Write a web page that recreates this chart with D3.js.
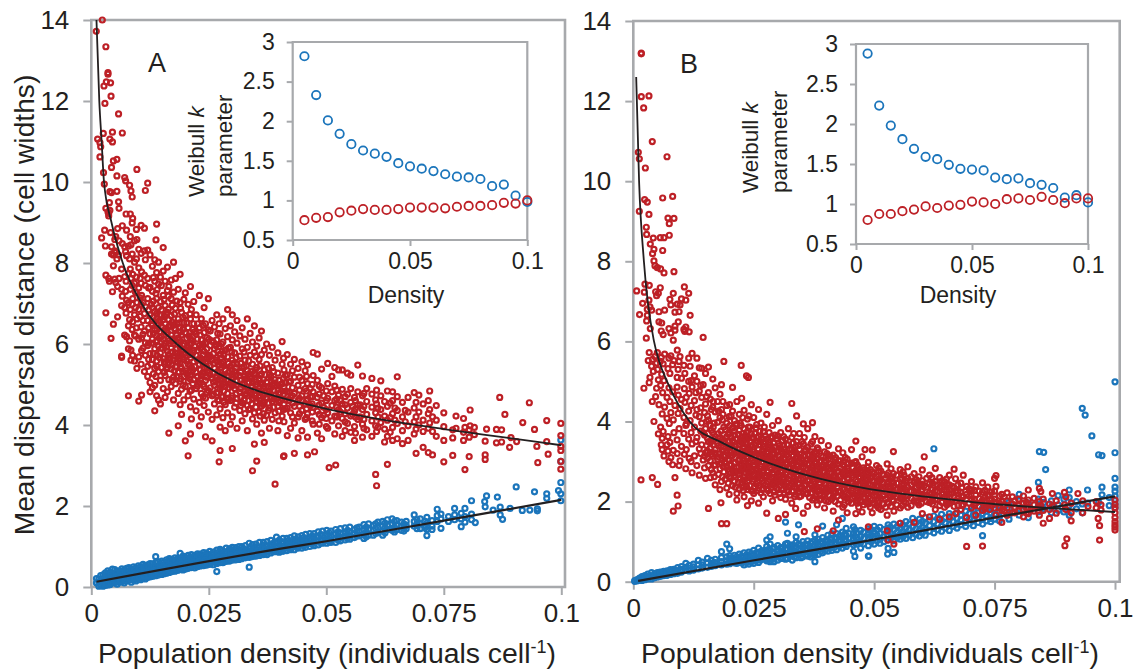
<!DOCTYPE html>
<html>
<head>
<meta charset="utf-8">
<script src="https://cdn.jsdelivr.net/npm/d3@7"></script>
<style>
  html, body { margin: 0; background: #fff; }
  svg { display: block; font-family: "Liberation Sans", Arial, sans-serif; fill: #231f20; }
</style>
</head>
<body>
<div id="chart"></div>
<script>
// tick labels
const densityTicks = [0, 0.025, 0.05, 0.075, 0.1];
const distanceTicks = [0, 2, 4, 6, 8, 10, 12, 14];
const insetDensityTicks = [0, 0.05, 0.1];
const insetKTicks = [0.5, 1, 1.5, 2, 2.5, 3];

// insets: Weibull k per density class
const insetDensity = [0.005, 0.01, 0.015, 0.02, 0.025, 0.03, 0.035, 0.04, 0.045, 0.05, 0.055, 0.06, 0.065, 0.07, 0.075, 0.08, 0.085, 0.09, 0.095, 0.1];
const kBlueA = [2.82, 2.33, 2.01, 1.84, 1.71, 1.63, 1.59, 1.55, 1.47, 1.43, 1.40, 1.37, 1.33, 1.30, 1.29, 1.27, 1.18, 1.20, 1.06, 0.98];
const kRedA = [0.75, 0.78, 0.79, 0.85, 0.87, 0.89, 0.88, 0.88, 0.89, 0.91, 0.91, 0.91, 0.90, 0.92, 0.93, 0.93, 0.94, 0.97, 0.96, 1.00];
const kBlueB = [2.88, 2.23, 1.98, 1.81, 1.69, 1.59, 1.56, 1.49, 1.44, 1.43, 1.42, 1.33, 1.31, 1.32, 1.26, 1.24, 1.20, 1.08, 1.11, 1.02];
const kRedB = [0.80, 0.875, 0.875, 0.91, 0.93, 0.97, 0.95, 0.98, 0.99, 1.03, 1.02, 1.00, 1.06, 1.07, 1.05, 1.09, 1.05, 1.01, 1.07, 1.07];

// fitted curves: [density, distance]
const fitRedA = [[0.0011,14],[0.0017,12],[0.0022,11],[0.0027,10],[0.0043,9],[0.0067,8],[0.0107,7],[0.0182,6],[0.0238,5.5],[0.0302,5.08],[0.035,4.86],[0.0401,4.68],[0.05,4.4],[0.0625,4.12],[0.075,3.9],[0.0875,3.7],[0.1,3.5]];
const fitBlueA = [[0.0011,0.13],[0.04,0.94],[0.05,1.13],[0.075,1.64],[0.1,2.15]];
const fitRedB = [[0.0006,12.6],[0.0012,10],[0.0022,8],[0.0043,6],[0.0053,5.53],[0.007,5],[0.0117,4],[0.0186,3.46],[0.0248,3.12],[0.036,2.66],[0.0491,2.31],[0.0611,2.12],[0.0749,1.94],[0.085,1.85],[0.1,1.74]];
const fitBlueB = [[0.001,0.02],[0.0248,0.53],[0.0462,0.97],[0.0749,1.6],[0.1,2.13]];

// scatter rows: density in thousandths, then the distances read at that density
const redA = [
[1.06,13.72],[1.35,11.06],[1.84,10.97,10.62],[2,10.87],[2.2,8.62],[2.34,14],[2.55,11.2],[2.6,10.23],[2.7,12.37],[2.77,9.95],[2.84,8.81],[2.9,11.94],[3,8.42],
[3.1,13.34,9.35,7.7,6.77],[3.2,12.47],[3.55,12.7,12.66,9.26],[3.7,9.22,9.16,7.62],[3.85,9.49,7.55],[3.95,11.06,9.76,9.3],[4.1,12.45,8.75],[4.2,12.12,6.14],[4.3,10.36,9.74,8.4,8.22],[4.5,11.23,10.99,7.29],
[4.7,10.52,8.2,7.93,6.49],[5,8.58,8.3,7.6],[5.2,8.65,8.26,7.52],[5.45,10.56,10.15,9.77,8.1],[5.6,8.85,6.67,7.42],[5.8,11.68,9.51,8.2],[5.9,9.35,8.55,7.62],[6.45,5.7,5.67,7.85,7.35,6.95],[6.6,11.21,8.92,8.48,7.18],[7.1,10.11,8.4,7.66,6.9,6.22],[7.3,10.03,8.28,7.3],[7.4,9.21,7.55,6.76],[7.5,8.81,8.18,7.08,6.18],[7.9,4.72,8.42,7.74,7.02,6.45,5.88],
[8.15,9.92,8.1,6.6,6.08],[8.3,9.21,8.65,7.85,7.35,6.85],[8.44,9.78,8.45,7.62,5.85,5.6],[8.7,9.63,8.99,8.22,7.45,6.98,6.36],[8.8,9.1,7.72,7.12,6.55,5.72],[9.2,8.55,8.02,7.5,6.72,6.22,5.58],[9.6,8.83,8.1,7.65,7.26,6.4],[9.7,10.31,8.58,7.02,6.62,5.4],[10.1,4.59,8.34,7.88,7.38,6.85,6.12,5.68],[10.6,8.93,8.24,7.5,6.98,6.42,5.5],[10.7,4.74,7.78,7.2,6.15,5.84],[11.3,8.86,8.3,7.7,6.75,6.32,5.32],[11.5,9.79,8.08,7.45,6.92,6.03,5.72],[12,9.97,8.32,7.62,7.12,6.58,5.96,5.2,5.45],
[12.5,8.2,7.4,6.72,6.25,5.76,5.05,4.82],[13,7.92,7.3,6.9,6.46,6.12,5.62,4.92],[13.5,4.35,8.08,7.55,6.8,6.35,5.88,5.4,4.98],[13.9,8.96,7.76,7.12,6.62,6.2,5.58,4.72],[13.76,8.57,7.25,6.05,5.2],[14.3,8.02,7.48,6.9,6.48,5.95,5.32,4.62],[14.7,7.65,7.05,6.72,6.3,5.78,5.1,4.52],[15.3,8.38,7.8,7.2,6.6,6.12,5.64,4.9],[15.7,7.55,6.95,6.5,6.02,5.5,5.22,4.68],[16.2,7.9,7.32,6.78,6.28,5.82,5.42,4.82],[16.5,3.8,7.42,6.6,6.08,5.66,5.12],[17,7.58,7.12,6.7,6.22,5.9,5.38,4.95],[17.5,8.02,7.28,6.48,6.02,5.6,5.18,4.62],[17.9,7.62,6.88,6.35,5.78,5.44,5.02],[18.5,3.98,7.35,6.62,6.15,5.7,5.3,4.78],[18.9,7.72,7.02,6.4,5.92,5.52,5.08,4.5],[19.2,4.26,6.78,6.22,5.84,5.4,4.88],[19.7,7.1,6.52,6,5.62,5.2,4.62],[20,3.61,7.26,6.7,6.28,5.78,5.34,4.95],[20.6,3.24,6.98,6.4,5.92,5.5,5.08,4.72],[21.1,3.78,7.42,6.62,6.12,5.66,5.24,4.45],[21.3,4.15,6.85,6.02,5.42,4.86],[21.8,7.05,6.5,5.85,5.56,5.12,4.64],
[22.3,6.72,6.25,5.72,5.3,4.9,4.35],[23,3.98,7.2,6.4,5.96,5.5,5.05,4.56],[23.4,6.62,6.1,5.62,5.22,4.78,4.2],[24,6.9,6.28,5.82,5.4,4.95,4.48],[24.3,3.71,6.5,6.02,5.56,5.1,4.66],[24.9,7.12,6.35,5.72,5.28,4.85,4.32],[25.7,3.61,6.58,6.08,5.6,5.15,4.72,4.14],[26.2,6.42,5.88,5.4,4.98,4.52],[26.7,6.72,6.1,5.66,5.2,4.8,4.25],[27.2,3.09,6.5,5.94,5.48,5.02,4.6],[27.4,3.37,6.25,5.75,5.3,4.88,4.4,3.95],[28,6.62,6.05,5.56,5.12,4.7,4.18],[28.5,6.38,5.85,5.36,4.95,4.5,3.86],[29,6.85,6.18,5.68,5.22,4.78,4.3],[29.6,6.45,5.92,5.45,5.04,4.6,4.02],[30,3.42,6.72,6.1,5.6,5.18,4.72,4.2],[30.5,6.3,5.78,5.32,4.9,4.44],[31,6.58,6.02,5.5,5.08,4.66,3.92],[31.6,6.2,5.7,5.22,4.82,4.36],[32.1,6.4,5.88,5.42,5,4.55,4.1],[32.7,6.12,5.6,5.14,4.74,4.28],[33.2,6.62,5.92,5.34,4.92,4.48,3.86],[33.8,6.26,5.72,5.2,4.8,4.4],[34.3,2.87,6.05,5.5,5.04,4.65,4.15],[34.7,3.53,6.45,5.8,5.28,4.86,4.3],[35.2,3.11,5.95,5.42,5,4.58,4.02],[35.7,6.15,5.62,5.14,4.72,4.32],[36.2,6.32,5.74,5.26,4.85,4.46,3.8],[36.8,3.57,5.85,5.36,4.96,4.56,4.12],[37.3,6,5.5,5.06,4.68,4.24],[37.9,5.72,5.24,4.84,4.42,3.92],[38.5,5.92,5.42,4.98,4.58,4.14],[39.1,2.54,5.6,5.12,4.72,4.3],[39.7,5.78,5.28,4.88,4.46,3.86],[40.6,6.06,5.5,5.02,4.64,4.22],[40.9,3.22,5.65,5.16,4.76,4.38],[41,3.24,5.36,4.94,4.52,4.08],[41.7,5.74,5.24,4.82,4.42,3.74],[42.4,5.5,5.08,4.68,4.3,3.92],[43.2,3.3,5.62,5.18,4.78,4.46,4.05],[44,5.4,4.98,4.6,4.2,3.68],[44.8,5.56,5.1,4.72,4.36,3.86],[45.5,5.34,4.9,4.52,4.14],[46,3.26,5.48,5.02,4.64,4.28,3.7],[47.2,5.79,5.22,4.82,4.44,4.02],[47.5,3.34],[48.1,5.75,5.1,4.68,4.34,3.8],
[49,5.38,4.92,4.54,4.18,3.66],[50.3,5.52,5.02,4.66,4.3,3.92],[50.6,2.95],[51.2,5.2,4.82,4.48,4.1],[51.8,5.42,4.96,4.6,4.22,3.78],[52,3.01],[52.6,5.36,4.74,4.38,3.98],[53.4,5.36,4.88,4.52,4.16,3.72],[54.5,5.28,4.76,4.42,4.04],[55.2,5.23,4.9,4.56,4.22,3.82],[56,4.68,4.34,3.96,3.62],[56.7,5.48,4.82,4.5,4.14],[57.7,5.21,4.72,4.38,4.02,3.7],[58.6,4.9,4.58,4.26,3.88],[59.7,5.15,4.76,4.44,4.1,3.72],[60.5,2.78,4.62,4.3,3.98],[60.7,2.5,4.86,4.52,3.84],[61.6,5.09,4.72,4.38,4.06],[62.4,4.58,4.22,3.9,3.58],[63,3.03,4.84,4.46,4.12,3.72],[64.1,4.82,4.6,4.28,3.94,3.62],[65.1,5.19,4.7,4.36,4.04,3.66],[66.2,4.56,4.2,3.86,3.54],[67.4,4.68,4.32,3.98,3.62],[68.7,4.8,4.42,4.08,3.78],[69.1,3.3,4.56,4.2,3.9],[69.7,4.74,4.32,4],[70.6,3.45,4.52,4.12,3.84],[71.7,3.32,4.6,4.28,3.92],[72,4.84,4.38,4.05],[72.6,3.26,4.2,3.84],[73.4,4.48,4.12,3.72],[75,3.09,4.3,3.96,3.62],[76.9,3.25,3.88,3.68],[77.6,4.22,3.92],[79.2,4.16,3.82,3.62],[79.5,2.9,3.94],[80.4,3.22,3.88,3.7],[80.6,4.37,3.98],[81.5,3.94,3.76],[83.8,3.26,3.15,3.6],[84.1,3.9],[86.2,3.89,3.56],[86.9,4.68],[87.3,3.88,3.58],[88,4.26],[89,3.45],[89.3,3.69],[90.5,3.59],[91.8,4.06],[93.2,4.55],[94.3,3.89],[94.8,3.47],[95,3.07],[96.9,4.11,3.59],[97.2,3.28],[99.9,4.04,3.74,3.47,3.37,3.1,2.91]
];

// the packed middle of the A cloud, estimated
const redACore = [
[9.4,7.28,6.9,6.2],[10.4,7.62,7.14,6.68],[11,7.02,6.58,6.24,5.9],[12.2,7.38,6.84,6.4,6.02,5.62],[13.2,7.64,7.06,6.66,6.26,5.76,5.26],[14,7.34,6.76,6.36,6.08,5.72,5.44],[14.9,7.44,6.84,6.44,6.18,5.9,5.42],[15.5,7.1,6.68,6.32,5.96,5.56,5.3],[16.4,7.18,6.86,6.42,6.14,5.74,5.5],[17.2,6.96,6.54,6.12,5.8,5.48,5.1],[17.7,6.74,6.38,6.08,5.72,5.34],[18.2,7.06,6.5,6.22,5.88,5.56,5.2],[19,6.88,6.3,6.06,5.76,5.44,5.14],[19.5,6.66,6.36,5.96,5.68,5.32,4.98],[20.3,6.52,6.14,5.84,5.58,5.26],[21,6.74,6.28,6,5.74,5.46,5.14,4.84],[21.6,6.36,6.08,5.78,5.36,5.02],[22.6,6.5,6.12,5.84,5.6,5.2,4.96],[23.2,6.22,5.9,5.66,5.36,5.12],[23.8,6.46,6,5.74,5.5,5.3,5,4.7],[24.6,6.16,5.88,5.64,5.42,5.18,4.8],[25.3,6.32,5.96,5.7,5.46,5.24,4.92],[26,6.04,5.76,5.52,5.28,5.06,4.76],[26.9,6.26,5.82,5.56,5.32,5.1,4.9,4.62],[27.7,6,5.66,5.42,5.22,4.96,4.7],[28.2,5.72,5.46,5.2,5.04,4.84,4.56],[29.2,5.9,5.52,5.3,5.1,4.92,4.64],[29.9,5.8,5.36,5.14,4.96,4.66],[30.8,5.66,5.42,5.24,4.98,4.76,4.54],[31.8,5.52,5.3,5.1,4.9,4.68,4.48],[32.5,5.8,5.44,5.2,5.04,4.84,4.62],[33.5,5.58,5.26,5.06,4.86,4.6,4.38],[34.1,5.32,5.14,4.96,4.74,4.52],[35,5.7,5.24,5.06,4.86,4.66,4.44],[35.9,5.46,5.22,5.02,4.8,4.6,4.22],[36.6,5.12,4.9,4.72,4.5,4.28],[37.7,5.4,5.16,4.94,4.76,4.54,4.36],[38.8,5.32,5.04,4.86,4.64,4.44],[39.9,5.1,4.96,4.76,4.56,4.34,4.1],[41.3,5.22,5.04,4.84,4.62,4.4],[42.8,5.34,4.92,4.72,4.54,4.2],[44.3,5.18,4.86,4.66,4.46,4.28],[45.8,5.2,4.84,4.6,4.4,4.18],[47,5,4.7,4.52,4.32,4.1],[48.5,4.96,4.76,4.5,4.26,4.02],[50,4.84,4.6,4.38,4.16,3.96],[52.2,4.86,4.64,4.44,4.2],[54,4.7,4.5,4.28,4.08,3.86],[56.2,4.6,4.4,4.2,3.8],[58,4.78,4.46,4.14,3.92],[61,4.42,4.2,3.94],[63.6,4.54,4.18,3.82],
[12.8,6.98,6.5,6.02,5.5],[14.5,6.58,6.16,5.66],[16,6.72,6.34,5.92,5.38],[16.8,6.46,6.02,5.6],[18.7,6.52,6.1,5.62],[20.8,6.2,5.86,5.3],[22,6.3,5.94,5.44],[23.6,5.98,5.58,5.26],[25,6.12,5.66,5.34],[26.5,5.96,5.6,5.16],[27.9,5.82,5.5,5.1],[30.2,5.52,5.24,5],[33,5.46,5.14,4.78],[34.9,5.36,5.12,4.74],[36.4,5.04,4.78,4.56],[38.2,5.2,4.92,4.66],[40.2,5,4.8,4.6],[42.1,5.06,4.82,4.6],[46.6,4.9,4.7,4.48],[49.4,4.72,4.44,4.24],[53,4.6,4.32],[55.6,4.46,4.26],[57.2,4.5,4.2],[64.6,4.42,4.12],[66.8,4.36,4.08]
];

const blueA = [
[1.1,0.21,0.1],[1.6,0.12,0.02,0.2],[2,0.28,0.16,0.05],[2.5,0.3,0.2,0.09,0.02],[3,0.35,0.24,0.12,0.04],[3.5,0.4,0.28,0.16,0.05],[4,0.37,0.26,0.14,0.06],[4.5,0.44,0.3,0.2,0.1],[5,0.43,0.33,0.22,0.11],[5.5,0.38,0.27,0.16,0.07],[6,0.4,0.3,0.2,0.12],[6.5,0.45,0.34,0.23,0.14],[7,0.42,0.31,0.19,0.1],[7.5,0.46,0.36,0.25,0.15],[8,0.48,0.37,0.26,0.17],[8.5,0.44,0.33,0.22,0.12],[9,0.5,0.39,0.28,0.17],[9.5,0.47,0.36,0.25,0.15],[10,0.52,0.42,0.3,0.19],[10.5,0.5,0.39,0.28,0.18],[11,0.56,0.44,0.33,0.22],[11.5,0.53,0.42,0.3,0.2],[12,0.55,0.44,0.32,0.24],[12.5,0.58,0.47,0.36,0.25],[13,0.57,0.45,0.34,0.26],[13.7,0.75,0.6,0.48,0.37,0.28],[14.2,0.62,0.5,0.38,0.29],[15,0.64,0.52,0.41,0.31],[15.5,0.62,0.5,0.4,0.33],[16,0.67,0.55,0.44,0.34],[16.6,0.7,0.58,0.46,0.36],[17.2,0.68,0.56,0.44,0.38],[17.8,0.72,0.6,0.49,0.39],[18.4,0.7,0.58,0.47,0.41],[18.9,0.83,0.68,0.55,0.44],[19.5,0.76,0.64,0.52,0.42],[20,0.74,0.62,0.5,0.44],[20.6,0.78,0.66,0.55,0.46],[21.3,0.8,0.68,0.56,0.48],[22,0.78,0.66,0.54,0.47],[22.6,0.82,0.7,0.6,0.5],[23.2,0.81,0.69,0.58,0.52],[23.9,0.85,0.72,0.62,0.53],[24.5,0.84,0.72,0.6,0.54],[25.2,0.88,0.76,0.65,0.56],[26,0.86,0.74,0.64,0.55],[26.7,0.91,0.78,0.38,0.66,0.58],[27.4,0.93,0.8,0.68,0.6],[28,0.9,0.79,0.7,0.6],[28.7,0.96,0.84,0.72,0.63],[29.4,0.94,0.82,0.7,0.64],[30,0.98,0.86,0.75,0.66],[30.7,0.97,0.85,0.74,0.67],[31.4,1,0.88,0.78,0.68],[32,1,0.89,0.78,0.7],[32.8,1.02,0.9,0.8,0.72],[33.6,1.08,0.94,0.82,0.73,0.49],[34.3,1.05,0.93,0.82,0.75],[35,1.06,0.95,0.84,0.76],[35.8,1.1,0.98,0.87,0.78],[36.6,1.1,0.98,0.88,0.8],[37.4,1.12,1,0.9,0.8],[38.2,1.15,1.03,0.92,0.84],[39.4,1.23,1.1,0.98,0.87],[40,1.16,1.05,0.94,0.86],[40.8,1.2,1.08,0.96,0.88],[41.6,1.2,1.09,1,0.9],[42.4,1.22,1.1,1,0.92],[43.2,1.26,1.13,1.02,0.92],[44,1.24,1.14,1.04,0.96],[44.8,1.27,1.16,1.05,0.96],[45.6,1.3,1.18,1.08,0.98],[46.5,1.32,1.2,1.08,1],[47.4,1.32,1.22,1.12,1.02],[48.3,1.36,1.24,1.13,1.04],[49.2,1.38,1.26,1.16,1.08],[50.1,1.4,1.28,1.18,1.08],[51,1.38,1.26,1.16,1.1],[52,1.42,1.3,1.2,1.1],[53,1.44,1.32,1.22,1.14],[54,1.46,1.34,1.24,1.16],[55,1.48,1.36,1.26,1.18],[56,1.42,1.32,1.22],[57,1.48,1.38,1.26],[58,1.54,1.4,1.3,1.2],[59,1.56,1.42,1.28],[60,1.52,1.4,1.28],[61,1.6,1.46,1.34],[62,1.62,1.5,1.38,1.28],[63,1.66,1.52,1.42],[64,1.68,1.56,1.4],[65,1.64,1.52,1.42],[66,1.6,1.5,1.4],[67,1.62,1.52,1.44],[68.7,1.78,1.62,1.5],[70,1.68,1.56,1.44],[71.4,1.72,1.58,1.27,1.42],[72.5,1.64,1.5,1.42],[73.6,1.92,1.76,1.62],[74.4,1.8,1.68,1.45],[76,1.74,1.62],[77.3,1.94,1.78,1.66],[78.7,1.82,1.68,1.49],[79.5,1.94,1.74,1.6],[80.9,2.13,1.8,1.66],[81.7,1.59],[83.7,2.11],[83.8,1.98],[84.1,2.25],[85.5,1.9],[86.4,2.22],[87,1.97,1.78],[87.5,1.67],[89.1,1.94],[90.4,2.47],[91.7,1.89],[93.3,1.9],[94.3,2.35],[94.9,1.93,1.88],[96.9,2.3,2.19],[99.4,2.38],[99.9,3.63,3.1,2.58,2.3,2.13]
];

const blueB = [
[0.3,0.01,0.03],[0.8,0.02,0.05],[1.3,0.04,0.09],[1.8,0.03,0.08,0.13],[2.4,0.05,0.1,0.15],[3,0.07,0.13,0.19],[3.8,0.23,0.12,0.07],[4.4,0.1,0.16,0.2],[5,0.12,0.18,0.23],[5.6,0.13,0.19,0.24],[6.3,0.15,0.21,0.26],[7,0.16,0.22,0.27],[7.7,0.18,0.25,0.3],[8.4,0.2,0.26,0.31],[9.2,0.21,0.28,0.35],[10,0.24,0.31,0.38],[10.9,0.46,0.36,0.28],[11.6,0.27,0.34,0.41],[12.5,0.29,0.37,0.44],[13.5,0.53,0.42,0.32],[14.3,0.34,0.42,0.49],[15.4,0.58,0.47,0.36],[16.2,0.38,0.46,0.53],[17,0.4,0.48,0.56],[18.3,0.75,0.6,0.5,0.42],[19.4,0.94,0.62,0.52,0.44],[20,0.82,0.65,0.55,0.45],[21,0.47,0.56,0.66],[22,0.49,0.59,0.69],[23,0.42,0.52,0.62,0.72],[24,0.44,0.54,0.64,0.74],[25,0.46,0.56,0.66,0.78],[26,0.48,0.58,0.7,0.84],[27.7,1.04,0.88,0.75,0.62,0.52],[28.4,1.12,0.94,0.78,0.64,0.5],[29.2,0.86,0.72,0.6,0.5],[30,0.9,0.76,0.64,0.54],[31.6,1.49,0.94,0.8,0.68,0.56],[32,1.21,0.96,0.82,0.7,0.58],[33,0.92,0.78,0.66,0.54],[33.8,1.12,0.98,0.84,0.72,0.6],[34.3,1.42,0.94,0.8,0.68],[35.2,1,0.86,0.74,0.62],[36.2,1.02,0.9,0.78,0.64],[37.7,1.17,1.04,0.5,0.9,0.76,0.66],[38.4,1.06,0.92,0.8,0.68],[39.3,1.39,1.1,0.96,0.84,0.72],[40.4,1.16,1.02,0.88,0.76],[41.2,1.2,1.06,0.92,0.78],[42.2,1.42,1.2,1.08,0.94,0.8],[43.4,1.58,1.24,1.1,0.96,0.84],[44.2,1.33,1.16,1.02,0.88],[45.7,1.37,1.2,1.06,0.92,0.76],[46,0.63,1.3,1.14,0.98],[47.2,1.28,1.12,0.98,0.84],[48.8,0.64,1.32,1.18,1.04,0.9],[48.9,0.64,1.22,1.06],[50,1.38,1.24,1.1,0.94],[51.2,1.36,1.2,1.06,0.96],[52.8,0.69,1.34,1.18,1.04],[52.9,0.83,1.42,1.26],[54.1,0.73,1.44,1.3,1.14,1.02],[55.4,1.46,1.32,1.18,1.06],[56.6,1.5,1.34,1.2,1.08],[58,1.58,1.38,1.24,1.1],[59.4,1.56,1.42,1.28,1.14],[60.6,1.6,1.46,1.3,1.16],[62.4,3.32,1.64,1.5,1.34,1.22],[64,1.68,1.52,1.38,1.26],[65.6,1.7,1.56,1.42,1.28],[67.2,1.72,1.58,1.44,1.34],[69,1.76,1.62,1.48,1.38],[70.6,1.8,1.66,1.52,1.4],[72.5,1.15,1.84,1.7,1.56,1.44],[74.2,1.86,1.72,1.58,1.5],[76,1.9,1.76,1.62,1.52],[78,1.98,1.82,1.68,1.56],[80.1,2.18,2.02,1.82,1.66],[82,1.96,1.84,1.7,1.6],[84.1,2.48,2.06,1.9,1.74],[84.3,3.25],[85.2,3.23,1.98,1.82],[85.6,2.8],[86.8,2.02,1.86,1.72],[88.2,2.15,1.92,1.78],[89.4,2.06,1.74],[90.5,2.29,2.1,1.9,1.66],[92,2,1.82],[93.2,4.33,1.94,1.72],[93.8,4.16],[94.3,2.29,1.96],[95.2,3.64],[96.6,3.17,1.98],[97.3,3.15,2.36,2.17],[98.8,2.1,1.9],[100,4.99,3.22,2.58,2.36,2.26,2.14,2.04,1.94,1.84]
];

const redB = [
[0.7,7.26],[1.04,10.72],[1.25,10.56,9.25],[1.3,6.67],[1.6,2.54],[1.66,13.18,13.2,12.11],[1.94,6.95],[2.15,11.83],[2.2,4.83],[2.28,7.23],[2.35,9.54],[2.42,7.43],[2.5,10.33],[2.7,8.85,6.08],[2.77,8.67,6.51],[2.9,9.48,6.8,6.65],[3.1,5.52],[3.25,12.13,9.17,7.03],[3.3,4.97,5.72],[3.32,7.4],[3.46,6.86,5.1],[3.53,8.43,6.32],[3.8,6.78,5.38],[3.94,10.99,4.5,2.6],[4,8.19,5.55],[4.15,8.58,5.25],[4.29,8.3,8.01,4],[4.5,7.89,5.62],[4.64,7.24,4.62],[4.84,7.14,4.83,5.46],[5,7.84,5.72],[5.05,2.43,5.3],[5.2,7.2,5.04,3.69],[5.33,6.74,6.49,4.42],[5.6,8.59,7.34,5.5],[5.67,7.81,4.9,3.86],[5.8,6.26,5.6,3.42],[5.9,6.46,5.18],[6,4.19,3.58,3.3],[6.1,9.58,8.27,4.72],[6.2,6.17,5.44,3.75],[6.37,8.59,7.71,5.02,3.14],[6.5,6.78,5.68,4.36],[7,10.61,4.08,4.6,3.42],[7.2,9.08,5.32,3.26,3.62],[7.4,6.32,5.58,4.84,3],[7.47,8.94,8.65,3.95],[7.6,7.05,5.2,4.5,3.48],[7.8,6.91,6.21,5.64,4.22,3.1],[8.17,9.62,5.42,4.74,2.92],[8.3,7.2,6.03,1.76,4.04,3.28],[8.44,9.07,7.74,5.52,3.72],[8.65,6.73,6.38,6.28,2.6,4.4],[9.1,2.16,5.1,4.86,3.54],[9.13,6.93,5.78,3.2],[9.3,1.89,5.3,4.2],[9.34,6.49,4.66],[9.5,6.74,5.5,3.82,2.9],[9.7,6.91,5.62,4.32,3.02],[10,7.06,5.08,4.55,3.38],[10.5,6.3,5.4,3.7,4.1],[10.6,7.36,4.82,3.18],[10.7,6.25,5.2,4.48],[10.9,7.03,6.36,3.9,2.82],[11.5,7.2,5.58,5,4.26,3.56],[11.6,6.24,4.7,3.08],[11.8,6.65,5.38,4.02],[12.2,5.7,4.86,3.44,2.72],[12.7,5.14,4.52,3.86,3.14],[13.2,5.58,5,4.3,3.6,2.9],[13.7,5.34,4.76,4.12,3.32,2.66],[14.2,5.33,4.6,3.96,3.42],[14.5,6.1,4.92,3.72,3.04],[15,5.2,4.44,3.82,3.22,2.58],[15.6,1.83,5.36,4.72,4.04,3.5,2.9],[16,4.56,3.9,3.34,3.02,2.6],[16.5,5.06,4.36,3.72,3.14,2.72],[17,4.84,4.24,3.62,3.3,2.92,2.42],[17.5,4.5,3.98,3.46,3.06],[18,4.68,4.1,3.6,3.2,2.82,2.3],[18.2,1.97,3.76,3.38],[18.3,1.45,4.92,4.3,2.96,2.5],[18.8,5.5,3.86,3.5,3.12,2.74],[19.4,1.45,4.4,3.96,3.62,3.26,2.88,2.34],[19.9,4.12,3.72,3.38,3.02,2.62,2.18],[20.6,4.85,4.26,3.84,3.52,3.16,2.78,2.4],[21,4.02,3.66,3.3,2.96,2.5],[21.5,4.5,3.94,3.56,3.22,2.86,2.2,2.04],[22,4.18,3.78,3.42,3.06,2.68,2.32],[22.4,5.4,3.9,3.48,3.14,2.76],[22.5,4.58,3.62,3.26,2.9,2.46],[23,4.28,3.82,3.36,3.02,2.62,2.12],[23.5,5.14,3.72,3.44,3.1,2.8,2.38],[23.7,1.9,4.06,3.56,3.2,2.9,2.5],[23.9,5.1,3.86,3.3,2.98,2.66],[24.5,4.42,3.7,3.4,3.08,2.74,2.28,2.02],[25,4.1,3.58,3.24,2.92,2.56,2.2],[25.5,3.84,3.46,3.14,2.82,2.44],[26,4.3,3.62,3.3,3,2.68,2.34,1.96],[26.5,3.96,3.5,3.18,2.88,2.58,2.22],[27,3.74,3.38,3.08,2.78,2.46,2.12],[27.7,1.71,4.18,3.56,3.24,2.94,2.64,2.32],[28.4,4.48,3.42,3.12,2.84,2.54,2.2],[28.9,3.9,3.6,3.3,3.02,2.72,2.42,2.02],[29.4,3.66,3.36,3.06,2.8,2.5,2.16],[30.1,1.58,4.02,3.46,3.16,2.9,2.62,2.3],[30.6,3.72,3.32,3.04,2.76,2.48,2.1],[31.6,1.68,3.56,3.24,2.96,2.68,2.38,2.06],[32.2,3.82,3.42,3.12,2.84,2.56,2.24],[32.9,4.45,3.6,3.3,3.02,2.74,2.44,1.96],[33.7,1.83,3.38,3.08,2.8,2.52,2.18],[33.9,4.14,3.5,3.2,2.92,2.64,2.32],[34.5,3.7,3.3,3,2.74,2.46,2.12],[35.3,1.71,3.94,3.44,3.14,2.86,2.58,2.26],[35.5,1.25,3.6,3.26,2.96,2.7,2.4],[36.2,3.82,3.36,3.06,2.8,2.52,2.2,1.88],[37.2,3.97,3.5,3.18,2.9,2.62,2.34,2.04],[37.7,3.62,3.24,2.96,2.7,2.44,2.14],[38.2,1.32,3.34,3.06,2.8,2.54,2.26,1.92],[39,3.52,3.14,2.88,2.62,2.36,2.06],[39.7,3.24,2.98,2.72,2.46,2.18,1.84],[40.5,3.4,3.06,2.82,2.56,2.3,2],[41.5,1.27,3.16,2.9,2.64,2.4,2.12,1.76],[42.6,1.54,3.32,3.02,2.76,2.5,2.24,1.94],[43.5,3.22,2.92,2.68,2.42,2.16,1.86],[44.4,3.06,2.82,2.58,2.34,2.08,1.72],[45.3,3.3,2.96,2.72,2.48,2.22,1.96],[46.2,3.51,3,2.78,2.54,2.28,2.02,1.7],[46.8,2.86,2.62,2.4,2.14,1.86],[47.5,3.12,2.72,2.5,2.26,2,1.74],[48.1,3.3,2.8,2.56,2.34,2.08],[48.8,1.37,2.98,2.66,2.44,2.2,1.94],[49.6,3.29,2.74,2.52,2.28,2.04,1.72],[50.5,2.9,2.62,2.4,2.16,1.9],[51.4,2.76,2.54,2.3,2.08,1.8],[52.7,1.27,2.94,2.66,2.44,2.22,1.98,1.66],[52.9,1.04],[53.5,2.82,2.56,2.34,2.12,1.88],[54,3.25,2.7,2.48,2.26,2.02],[54.1,0.94,2.4,2.18,1.76],[55.4,1.46,2.8,2.56,2.32,2.08,1.84],[56.2,2.66,2.44,2.22,2],[57,2.87,2.58,2.36,2.14,1.86],[58.3,1.48,2.7,2.48,2.26,2.02],[59.3,2.62,2.4,2.18,1.92],[60,2.79,2.52,2.3,2.08,1.7],[60.4,3.12,2.4,2.12],[61.5,2.66,2.44,2.22,1.98,1.62],[62.7,2.83,2.5,2.28,2.06,1.8],[63.6,2.6,2.36,2.14,1.9,1.56],[64.6,2.5,2.3,2.1,1.86],[65.6,2.66,2.42,2.2,1.96,1.62],[66.6,2.81,2.34,2.12,1.88],[66.9,2.57,2.26,2.02,1.7],[68,2.46,2.24,2.04,1.8],[68.5,2.66,2.12,1.92],[69.2,0.88,2.38,2.18,1.6],[70.2,2.5,2.28,2.06,1.84],[71.1,2.37,2.16,1.96,1.66],[72.5,0.89,2.47,2.24,2.04,1.78],[73.6,2.36,2.14,1.92],[75,2.58,2.26,2.06,1.84],[75.3,2.65,2.38,1.98,1.66],[76.5,1.48,2.18,2,1.78],[77.6,2.22,2.02,1.84,1.66],[78.7,2.12,1.94,1.72],[80,2.06,1.9,1.76],[81,2.14,1.96,1.8,1.62],[82,2.29,2.04,1.86,1.7],[83.2,2.08,1.92,1.76],[84.3,2.33,2,1.84,1.66],[84.6,2.25,1.9],[85.1,1.46,2.06,1.78],[86.4,1.58,1.94,1.8],[87,2.2,1.88],[87.8,1.71,2.02],[89.5,2.23,1.92],[89.6,0.9],[89.8,2.12,1.8],[90,1.07],[90.9,1.52,1.96,1.72],[92.3,2.2],[93.3,2.02,1.72],[94.4,1.88],[96.1,2,1.84],[96.5,1.58],[96.8,1.4,1.04],[97.1,1.79,1.92],[100,2.04,1.93,1.85,1.72,1.6,1.5,1.42,1.36,1.29]
];

// the packed middle of the B cloud, estimated
const redBCore = [
[14.8,4.22,3.66,3.14,2.84],[15.4,4.14,3.58,3.26,3.08],[16.2,4.3,3.78,3.5,3.18,2.8],[16.8,3.96,3.56,3.22,2.9,2.62],[17.7,4.26,3.7,3.4,3.12,2.68],[18.5,4.04,3.56,3.28,3.04,2.62],[19.1,3.8,3.44,3.16,2.96,2.56],[19.7,3.68,3.34,3.06,2.8,2.46],[20.3,4.14,3.62,3.4,3.14,2.92,2.6],[20.9,3.76,3.48,3.2,2.86,2.64],[21.2,3.92,3.38,3.1,2.72,2.36],[21.8,3.68,3.32,3.02,2.76,2.48],[22.2,3.96,3.54,3.18,2.94,2.58],[22.8,3.7,3.44,3.08,2.82,2.54,2.28],[23.3,3.58,3.26,2.96,2.72,2.44],[23.8,3.76,3.36,3.12,2.86,2.6,2.3],[24.2,3.86,3.5,3.22,2.94,2.66,2.4],[24.8,3.6,3.3,3.02,2.8,2.5,2.26],[25.2,3.7,3.42,3.12,2.88,2.64,2.36],[25.8,3.5,3.2,2.96,2.72,2.5,2.28],[26.3,3.76,3.42,3.1,2.82,2.66,2.4],[26.8,3.56,3.26,3,2.76,2.52,2.3],[27.4,3.64,3.32,3.14,2.9,2.6,2.4],[28,3.48,3.2,2.98,2.74,2.5,2.28],[28.7,3.62,3.28,3.06,2.8,2.6,2.36],[29.2,3.46,3.22,2.94,2.7,2.44,2.24],[29.8,3.56,3.24,3,2.76,2.54,2.34],[30.4,3.4,3.12,2.86,2.66,2.4,2.2],[31,3.52,3.22,2.98,2.74,2.54,2.3],[31.3,3.3,3.08,2.84,2.6,2.42,2.22],[31.9,3.42,3.18,2.92,2.72,2.48,2.28],[32.5,3.3,3.06,2.86,2.64,2.4,2.16],[33.2,3.46,3.14,2.94,2.7,2.5,2.26],[33.5,3.24,3,2.78,2.58,2.36,2.12],[34.2,3.4,3.1,2.88,2.66,2.44,2.24],[34.8,3.18,2.94,2.76,2.56,2.32,2.14],[35.8,3.3,3.02,2.82,2.62,2.42,2.2],[36.6,3.16,2.94,2.74,2.54,2.34,2.1],[37,3.24,3,2.84,2.64,2.4,2.22],[37.5,3.1,2.88,2.7,2.5,2.3,2.08],[38,3.2,2.98,2.76,2.58,2.36,2.16],[38.7,3,2.82,2.66,2.46,2.28,2.04],[39.4,3.12,2.92,2.74,2.52,2.32,2.12],[40,3.02,2.84,2.66,2.44,2.24,2.02],[40.8,3.14,2.94,2.72,2.52,2.34,2.14],[41.2,2.88,2.7,2.5,2.3,2.06],[41.9,3.04,2.82,2.62,2.44,2.22,2],[42.3,2.94,2.74,2.56,2.36,2.14],[43,3.02,2.84,2.64,2.46,2.26,2.04],[43.8,2.88,2.7,2.52,2.32,2.12,1.92],[44.7,2.96,2.76,2.56,2.38,2.18,2],[45.6,2.84,2.66,2.46,2.28,2.08],[46.5,2.92,2.72,2.5,2.34,2.16,1.96],[47.1,2.78,2.58,2.42,2.2,2.02],[47.8,2.84,2.64,2.44,2.3,2.1,1.92],[48.4,2.72,2.52,2.38,2.18,1.98],[49.2,2.8,2.6,2.42,2.24,2.08,1.86],[50,2.7,2.5,2.34,2.14,1.96],[50.9,2.76,2.56,2.38,2.22,2.02,1.84],[51.9,2.68,2.48,2.32,2.14,1.94],[52.4,2.58,2.38,2.24,2.06,1.86],[53,2.72,2.5,2.34,2.16,1.96],[54.7,2.66,2.46,2.3,2.12,1.92],[55.8,2.58,2.4,2.24,2.06,1.9],[56.6,2.52,2.3,2.16,1.96],[57.7,2.62,2.42,2.26,2.08,1.9],[58.8,2.54,2.34,2.2,2.02],[59.8,2.44,2.26,2.12,1.96],[60.9,2.58,2.36,2.16,2],[62.1,2.46,2.3,2.12,1.94],[63.1,2.42,2.24,2.04],[64.1,2.52,2.36,2.18,1.98],[65.1,2.44,2.26,2.08,1.92],[66.2,2.38,2.2,2.02],[67.4,2.42,2.26,2.08,1.9],[69.7,2.32,2.14,1.96],[71.8,2.26,2.08,1.88],[73,2.28,2.1,1.98,1.82],[74.4,2.24,2.04,1.9],[76,2.14,1.96,1.84],[77,2.12,1.92,1.76],[79.2,2.02,1.86,1.72],[81.6,1.98,1.84,1.72],
[11,4.6,3.94,3.3],[12,5.02,4.4,3.72,3],[13,4.72,4.16,3.5],[14,4.9,4.34,3.76,3.2],[15.2,4.62,4,3.4],[16.6,4.5,3.86,3.42],[18.6,4.5,4.18,3.24,2.88],[20,4.42,3.9,3.5,3.22,2.74],[22.7,4.1,3.5,3.2,2.86,2.36],[24,4.14,3.6,3.26,2.78],[25.6,3.92,3.6,3.04,2.6],[27.2,3.86,3.48,3.16,2.84],[28.2,3.72,3.34,3.04,2.66],[30,3.64,3.28,2.92,2.58],[31.2,3.62,3.16,2.88,2.46],[33.3,3.7,3.26,2.82,2.46],[35,3.5,3.06,2.68,2.36],[36.9,3.44,3.08,2.76,2.44],[38.4,3.3,2.9,2.6,2.3],[40.2,3.2,2.88,2.6,2.28],[42,3.1,2.86,2.54,2.26],[44,3.1,2.72,2.44,2.14],[46,2.98,2.7,2.42,2.12],[48.6,2.86,2.58,2.3,2.02],[51,2.84,2.48,2.18,1.96],[53.8,2.62,2.3,2.04],[56,2.74,2.34,2.1],[59,2.48,2.24,1.98],[62,2.6,2.2,2.02],[65,2.56,2.18,1.98],[68.2,2.34,2.14,1.9],[70.8,2.28,2.06,1.9],[74,2.16,1.96,1.8]
];

const blueACore = [
[3.2,0.3,0.18,0.08],[4.2,0.33,0.22,0.1],[5.2,0.36,0.26,0.14],[6.2,0.36,0.25,0.15],[7.2,0.38,0.26,0.16],[8.2,0.42,0.3,0.2],[9.2,0.44,0.32,0.22],[10.2,0.46,0.34,0.24],[11.2,0.5,0.38,0.27],[12.2,0.5,0.4,0.28],[13.3,0.52,0.41,0.3],[14.6,0.56,0.45,0.35],[15.8,0.58,0.47,0.37],[16.9,0.62,0.5,0.41],[18.1,0.65,0.54,0.44],[19.2,0.7,0.58,0.47],[20.3,0.7,0.59,0.49],[21.6,0.74,0.62,0.52],[22.9,0.76,0.64,0.55],[24.2,0.78,0.67,0.57],[25.6,0.82,0.7,0.6],[27,0.85,0.73,0.63],[28.3,0.85,0.75,0.65],[29.7,0.9,0.78,0.68],[31,0.92,0.81,0.71],[32.4,0.95,0.84,0.74],[33.9,0.98,0.87,0.77],[35.4,1,0.9,0.8],[37,1.04,0.94,0.84],[38.7,1.08,0.97,0.87],[40.4,1.12,1,0.9],[42,1.15,1.04,0.95],[43.6,1.18,1.08,0.98],[45.2,1.22,1.12,1.02],[47,1.26,1.16,1.06],[48.8,1.3,1.19,1.09],[50.6,1.34,1.22,1.12],[52.5,1.36,1.26,1.16],[54.5,1.4,1.3,1.2],[56.5,1.46,1.36,1.26],[58.5,1.48,1.36,1.24],[60.5,1.56,1.44,1.32],[62.5,1.58,1.46,1.34],[64.5,1.62,1.48,1.36],[66.5,1.56,1.46,1.38],[69.3,1.66,1.54,1.44],[71,1.62,1.52,1.46]
];

const blueBCore = [
[20.5,0.6,0.5],[21.5,0.62,0.52,0.46],[22.5,0.64,0.54,0.47],[23.5,0.67,0.58,0.48],[24.5,0.7,0.6,0.5],[25.5,0.72,0.62,0.52],[26.5,0.76,0.64,0.54],[27.2,0.78,0.68,0.58],[28,0.8,0.7,0.6,0.54],[29,0.82,0.74,0.64,0.56],[30.5,0.84,0.72,0.6],[31,0.86,0.76,0.66,0.58],[32.6,0.9,0.76,0.64],[33.4,0.88,0.74,0.62],[34.8,0.92,0.8,0.7,0.6],[35.8,0.94,0.82,0.68],[36.8,0.96,0.84,0.72,0.62],[37.2,1,0.88,0.78,0.68],[38.9,1,0.88,0.76],[39.8,1.02,0.9,0.78],[40.9,1.08,0.96,0.84],[41.8,1.1,0.98,0.86],[42.8,1.14,1.02,0.9],[43.8,1.18,1.04,0.92],[44.8,1.2,1.08,0.96],[46.4,1.22,1.1,0.94],[47.8,1.24,1.08,0.94],[49.4,1.3,1.16,1],[50.6,1.3,1.16,1.02],[52,1.3,1.12,1],[53.4,1.36,1.22,1.08],[54.8,1.38,1.24,1.1],[56,1.42,1.26,1.12],[57.3,1.44,1.3,1.16],[58.7,1.48,1.32,1.18],[60,1.5,1.36,1.22],[61.5,1.54,1.4,1.26],[63.2,1.58,1.44,1.3],[64.8,1.6,1.46,1.34],[66.4,1.64,1.5,1.38],[68,1.66,1.54,1.42],[69.8,1.7,1.58,1.46],[71.6,1.72,1.6,1.48],[73.3,1.76,1.64,1.52],[75,1.8,1.68,1.56]
];

const RED = "#bd2026";
const BLUE = "#1b75bb";
const GREY = "#a7a9ac";

const width = 1136;
const height = 672;

const svg = d3.select("#chart")
  .append("svg")
  .attr("width", width)
  .attr("height", height);

function flatten(rows) {
  return rows.flatMap(([x, ...ys]) => ys.map(y => [x / 1000, y]));
}

function styleAxis(g) {
  g.selectAll(".domain").remove();
  g.selectAll(".tick line").attr("stroke", GREY).attr("stroke-width", 2);
  g.selectAll(".tick text").attr("fill", "#231f20");
}

function drawFrame(g, x0, x1, y0, y1, sw) {
  // left, bottom, top and right edges of a plot box
  g.append("path")
    .attr("d", `M${x0},${y1}L${x0},${y0}L${x1},${y0}L${x1},${y1}L${x0},${y1}`)
    .attr("fill", "none")
    .attr("stroke", GREY)
    .attr("stroke-width", sw);
}

function drawRings(g, points, x, y, color, r, sw) {
  g.append("g")
    .selectAll("circle")
    .data(points)
    .join("circle")
    .attr("cx", d => x(d[0]))
    .attr("cy", d => y(d[1]))
    .attr("r", r)
    .attr("fill", "none")
    .attr("stroke", color)
    .attr("stroke-width", sw);
}

function drawPanel(p) {
  const g = svg.append("g");
  const x = d3.scaleLinear().domain([0, 0.1]).range([p.x0, p.x1]);
  const y = d3.scaleLinear().domain([0, 14]).range([p.y0, p.y14]);

  drawFrame(g, p.x0, p.xEnd, p.y14, p.y0, 2.6);

  const bottom = g.append("g")
    .attr("transform", `translate(0,${p.y0})`)
    .call(d3.axisBottom(x).tickValues(densityTicks).tickSize(8).tickPadding(8.5).tickFormat(d => d));
  bottom.call(styleAxis);
  bottom.selectAll("text").attr("font-size", 26);

  const left = g.append("g")
    .attr("transform", `translate(${p.x0},0)`)
    .call(d3.axisLeft(y).tickValues(distanceTicks).tickSize(8).tickPadding(14).tickFormat(d => d));
  left.call(styleAxis);
  left.selectAll("text").attr("font-size", 26);

  drawRings(g, flatten(p.blue), x, y, BLUE, 2.5, 2.2);
  drawRings(g, flatten(p.red), x, y, RED, 2.5, 2.2);

  const line = d3.line()
    .x(d => x(d[0]))
    .y(d => y(d[1]))
    .curve(d3.curveMonotoneX);

  [p.fitRed, p.fitBlue].forEach((fit, i) => {
    g.append("path")
      .attr("d", line(fit))
      .attr("fill", "none")
      .attr("stroke", "#231f20")
      .attr("stroke-width", i === 0 ? 1.8 : 2.2);
  });

  g.append("text")
    .attr("x", p.letterX)
    .attr("y", p.letterY)
    .attr("font-size", 27)
    .text(p.letter);

  // x axis title with the superscript
  const xTitle = g.append("text")
    .attr("x", p.titleX)
    .attr("y", p.titleY)
    .attr("font-size", 28.4)
    .attr("text-anchor", "middle");
  xTitle.append("tspan").text("Population density (individuals cell");
  xTitle.append("tspan").attr("dy", -10).attr("font-size", 18).text("-1");
  xTitle.append("tspan").attr("dy", 10).text(")");

  drawInset(g, p.inset);
}

function drawInset(g, s) {
  const x = d3.scaleLinear().domain([0, 0.1]).range([s.x0, s.x1]);
  const y = d3.scaleLinear().domain([0.5, 3]).range([s.yBottom, s.yTop]);

  drawFrame(g, s.x0, s.x1, s.yTop, s.yBottom, 2.2);

  const bottom = g.append("g")
    .attr("transform", `translate(0,${s.yBottom})`)
    .call(d3.axisBottom(x).tickValues(insetDensityTicks).tickSize(6).tickPadding(7).tickFormat(d => d));
  bottom.call(styleAxis);
  bottom.selectAll("text").attr("font-size", 23);

  const left = g.append("g")
    .attr("transform", `translate(${s.x0},0)`)
    .call(d3.axisLeft(y).tickValues(insetKTicks).tickSize(6).tickPadding(12).tickFormat(d => d));
  left.call(styleAxis);
  left.selectAll("text").attr("font-size", 23);

  drawRings(g, insetDensity.map((d, i) => [d, s.blue[i]]), x, y, BLUE, 4.2, 1.8);
  drawRings(g, insetDensity.map((d, i) => [d, s.red[i]]), x, y, RED, 4.2, 1.8);

  g.append("text")
    .attr("x", s.densityX)
    .attr("y", s.densityY)
    .attr("font-size", 23)
    .attr("text-anchor", "middle")
    .text("Density");

  const weibull = g.append("text")
    .attr("transform", `translate(${s.weibullX},${s.labelBottom}) rotate(-90)`)
    .attr("font-size", 22.5);
  weibull.append("tspan").text("Weibull ");
  weibull.append("tspan").attr("font-style", "italic").text("k");

  g.append("text")
    .attr("transform", `translate(${s.parameterX},${s.labelBottom}) rotate(-90)`)
    .attr("font-size", 22.5)
    .text("parameter");
}

drawPanel({
  letter: "A", letterX: 148, letterY: 72,
  x0: 91.3, x1: 561.3, xEnd: 565, y0: 587, y14: 20,
  titleX: 327, titleY: 663,
  red: redA.concat(redACore), blue: blueA.concat(blueACore), fitRed: fitRedA, fitBlue: fitBlueA,
  inset: {
    x0: 292.7, x1: 527.3, yTop: 42, yBottom: 240,
    blue: kBlueA, red: kRedA,
    densityX: 406, densityY: 303, weibullX: 204, parameterX: 232, labelBottom: 197
  }
});

drawPanel({
  letter: "B", letterX: 680, letterY: 73,
  x0: 633.3, x1: 1115, xEnd: 1119.7, y0: 581.7, y14: 21,
  titleX: 870, titleY: 663,
  red: redB.concat(redBCore), blue: blueB.concat(blueBCore), fitRed: fitRedB, fitBlue: fitBlueB,
  inset: {
    x0: 856, x1: 1088, yTop: 44, yBottom: 244,
    blue: kBlueB, red: kRedB,
    densityX: 958, densityY: 303, weibullX: 758, parameterX: 787, labelBottom: 193
  }
});

// shared y axis title
svg.append("text")
  .attr("transform", "translate(34,305) rotate(-90)")
  .attr("font-size", 28.2)
  .attr("text-anchor", "middle")
  .text("Mean dispersal distance (cell widths)");
</script>
</body>
</html>
